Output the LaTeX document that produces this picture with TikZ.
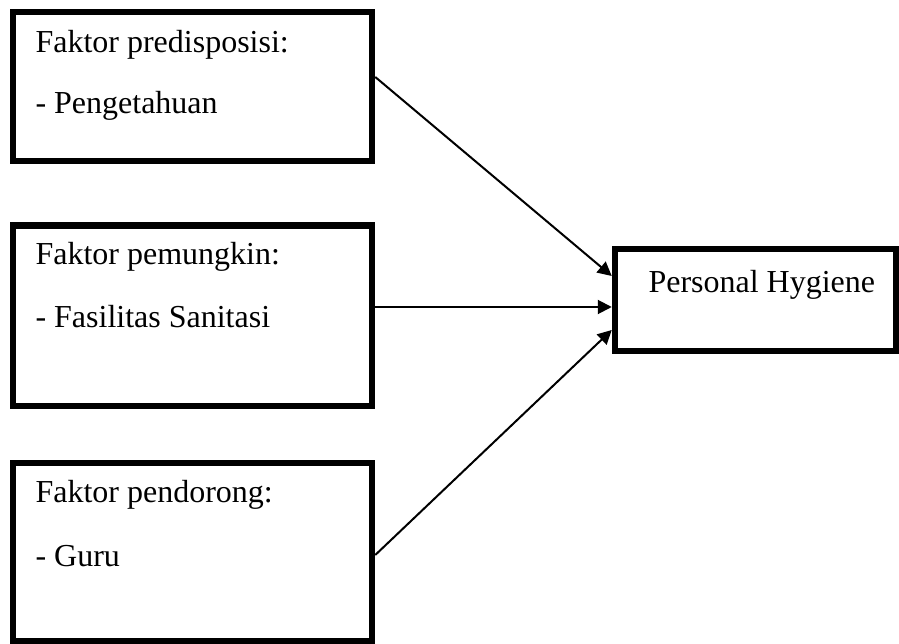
\documentclass[tikz,border=0pt]{standalone}
\usepackage{fontspec}
\setmainfont{Liberation Serif}
\usetikzlibrary{arrows.meta}
\begin{document}
\begin{tikzpicture}[x=0.4pt,y=-0.4pt,font=\fontsize{12.8}{15}\selectfont,
	kotak/.style={draw,line width=2.6pt,inner sep=0pt},
	teks/.style={anchor=base west,inner sep=0pt},
	panah/.style={-{Triangle[length=5.6pt,width=5.6pt]},line width=0.8pt}]
	\useasboundingbox (0,0) rectangle (899,644);
	
	\node[kotak,minimum width=143.6pt,minimum height=59.6pt] (predis) at (192.5,86.5) {};
	\node[kotak,minimum width=143.6pt,minimum height=72.2pt] (pemung) at (192.5,315.75) {};
	\node[kotak,minimum width=143.6pt,minimum height=71.2pt] (pendor) at (192.5,552) {};
	\node[kotak,minimum width=112.4pt,minimum height=40.8pt] (hygiene) at (755.5,300) {};
	
	\foreach \nama/\isi/\vtri in {predisA/Faktor predisposisi:/53,predisB/- Pengetahuan/114,pemungA/Faktor pemungkin:/265,pemungB/- Fasilitas Sanitasi/328,pendorA/Faktor pendorong:/503,pendorB/- Guru/567}
	\node[teks] (\nama) at (35,\vtri) {\isi};
	\node[teks] (hygA) at (648,293) {Personal Hygiene};
	
	\draw[panah] ([yshift=3.8pt]predis.east)--([yshift=9.6pt]hygiene.west);
	\draw[panah] ([yshift=3.5pt]pemung.east) coordinate (p2)--(p2-|hygiene.west);
	\draw[panah] ([yshift=-1.2pt]pendor.east)--([yshift=-12pt]hygiene.west);
\end{tikzpicture}
\end{document}
